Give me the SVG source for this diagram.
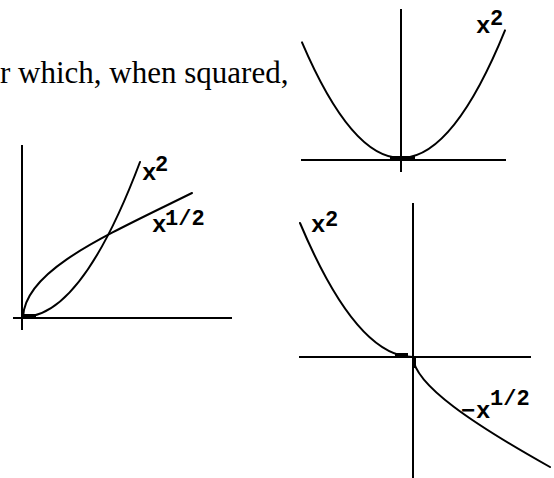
<svg xmlns="http://www.w3.org/2000/svg" width="554" height="478" viewBox="0 0 554 478">
<style>
.ax{stroke:#000;stroke-width:2;fill:none}
.cv{stroke:#000;stroke-width:2;fill:none;stroke-linecap:round}
.blob{stroke:#000;stroke-width:4;fill:none}
.lb{font-family:"Liberation Mono","Courier New",monospace;font-size:24px;font-weight:bold;fill:#000}
.sp{font-family:"Liberation Mono","Courier New",monospace;font-size:22px;font-weight:bold;fill:#000}
.tx{font-family:"Liberation Serif","Times New Roman",serif;font-size:31px;fill:#000}
</style>
<rect width="554" height="478" fill="#fff"/>
<text class="tx" x="0" y="83">r which, when squared,</text>
<g id="graph-parabola">
<line class="ax" x1="401" y1="9" x2="401" y2="172"/>
<line class="ax" x1="301" y1="160" x2="506" y2="160"/>
<line class="blob" x1="390" y1="158" x2="415" y2="158"/>
<path class="cv" d="M302,42.3 Q403.5,279.4 505,30.4"/>
<text class="lb" x="476" y="33">x</text>
<text class="sp" x="490" y="25">2</text>
</g>
<g id="graph-first-quadrant">
<line class="ax" x1="22" y1="145" x2="22" y2="330"/>
<line class="ax" x1="13" y1="318" x2="232" y2="318"/>
<line class="blob" x1="22" y1="316" x2="36" y2="316"/>
<path class="cv" d="M23,317 Q81.5,317 140,162"/>
<path class="cv" d="M23,317 C25,270 105,236 192,193"/>
<text class="lb" x="142" y="180">x</text>
<text class="sp" x="155" y="171">2</text>
<text class="lb" x="152" y="232">x</text>
<text class="sp" x="165" y="225">1/2</text>
</g>
<g id="graph-branches">
<line class="ax" x1="413" y1="203" x2="413" y2="478"/>
<line class="ax" x1="299" y1="357" x2="531" y2="357"/>
<line class="blob" x1="395" y1="355" x2="408" y2="355"/>
<line class="blob" x1="414" y1="358" x2="414" y2="368"/>
<path class="cv" d="M300,223 Q356.5,357 413,357"/>
<path class="cv" d="M413,357 C414,385 475,425 550,467"/>
<text class="lb" x="311" y="232">x</text>
<text class="sp" x="325" y="226">2</text>
<text class="lb" x="461" y="418">−</text>
<text class="lb" x="476" y="418">x</text>
<text class="sp" x="490" y="405">1/2</text>
</g>
</svg>
